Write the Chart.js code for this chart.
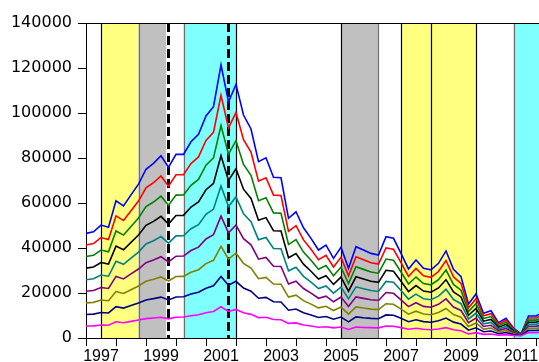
<!DOCTYPE html>
<html>
<head>
<meta charset="utf-8">
<script src="https://cdn.jsdelivr.net/npm/chart.js@4.4.0/dist/chart.umd.min.js"></script>
<style>
html, body { margin: 0; padding: 0; background: #fff; }
#wrap { width: 539px; height: 362px; }
</style>
</head>
<body>
<div id="wrap"><canvas id="fanChart"></canvas></div>
<script>
// quarterly observations, first one is 1997Q1
var startYear = 1997;
var nObs = 62;

var magenta = [5300,5400,5800,5700,7200,6800,7400,8000,8600,8900, 9200,8500,9200,9300,9900,10300,11200,11800,13900,11800, 12700,11200,10500,9000,9200,8200,8100,6500,6700,5800, 5300,4800,5000,4500,4900,3800,4900,4700,4600,4500, 5300,5200,4600,3900,4300,3900,3700,4000,4600,3700, 3200,1800,2400,1600,1800,1200,1500,1100,1000,2400, 2400,2700];
var navy = [10450,10630,11350,11140,13930,13290,14430,15550,16900,17490, 18180,16930,18250,18340,19560,20330,22140,23180,27330,23450, 25200,22190,20800,17680,18060,16100,15990,12340,12880,11200, 10180,9090,9540,8360,9330,7200,9360,9000,8730,8550, 10260,10090,8730,7250,8100,7290,7030,7650,8860,7050, 6210,3460,4550,2780,3090,1900,2410,1510,1100,3330, 3330,3800];
var olive = [15600,15850,16900,16580,20650,19780,21450,23100,25200,26080, 27150,25350,27300,27380,29230,30350,33080,34550,40750,35100, 37700,33180,31100,26350,26930,24000,23880,18180,19050,16600, 15050,13380,14080,12230,13750,10600,13830,13300,12850,12600, 15230,14980,12850,10600,11900,10680,10350,11300,13130,10400, 9230,5130,6700,3950,4380,2600,3330,1930,1200,4250, 4250,4900];
var purple = [20750,21080,22450,22010,27380,26260,28480,30650,33500,34660, 36130,33780,36350,36410,38890,40380,44010,45930,54180,46750, 50200,44160,41400,35030,35790,31900,31760,24010,25230,22000, 19930,17660,18610,16090,18180,14000,18290,17600,16980,16650, 20190,19860,16980,13950,15700,14060,13680,14950,17390,13750, 12240,6790,8850,5130,5660,3300,4240,2340,1300,5180, 5180,6000];
var teal = [25900,26300,28000,27450,34100,32750,35500,38200,41800,43250, 45100,42200,45400,45450,48550,50400,54950,57300,67600,58400, 62700,55150,51700,43700,44650,39800,39650,29850,31400,27400, 24800,21950,23150,19950,22600,17400,22750,21900,21100,20700, 25150,24750,21100,17300,19500,17450,17000,18600,21650,17100, 15250,8450,11000,6300,6950,4000,5150,2750,1400,6100, 6100,7100];
var black = [31050,31530,33550,32890,40830,39240,42530,45750,50100,51840, 54080,50630,54450,54490,58210,60430,65890,68680,81030,70050, 75200,66140,62000,52380,53510,47700,47540,35690,37580,32800, 29680,26240,27690,23810,27030,20800,27210,26200,25230,24750, 30110,29640,25230,20650,23300,20840,20330,22250,25910,20450, 18260,10110,13150,7480,8240,4700,6060,3160,1500,7030, 7030,8200];
var green = [36200,36750,39100,38330,47550,45730,49550,53300,58400,60430, 63050,59050,63500,63530,67880,70450,76830,80050,94450,81700, 87700,77130,72300,61050,62380,55600,55430,41530,43750,38200, 34550,30530,32230,27680,31450,24200,31680,30500,29350,28800, 35080,34530,29350,24000,27100,24230,23650,25900,30180,23800, 21280,11780,15300,8650,9530,5400,6980,3580,1600,7950, 7950,9300];
var red = [41350,41980,44650,43760,54280,52210,56580,60850,66700,69010, 72030,67480,72550,72560,77540,80480,87760,91430,107880,93350, 100200,88110,82600,69730,71240,63500,63310,47360,49930,43600, 39430,34810,36760,31540,35880,27600,36140,34800,33480,32850, 40040,39410,33480,27350,30900,27610,26980,29550,34440,27150, 24290,13440,17450,9830,10810,6100,7890,3990,1700,8880, 8880,10400];
var blue = [46500,47200,50200,49200,61000,58700,63600,68400,75000,77600, 81000,75900,81600,81600,87200,90500,98700,102800,121300,105000, 112700,99100,92900,78400,80100,71400,71200,53200,56100,49000, 44300,39100,41300,35400,40300,31000,40600,39100,37600,36900, 45000,44300,37600,30700,34700,31000,30300,33200,38700,30500, 27300,15100,19600,11000,12100,6800,8800,4400,1800,9800, 9800,11500];

var allSeries = [magenta, navy, olive, purple, teal, black, green, red, blue];
var seriesColors = ['#FF00FF', '#000080', '#808000', '#800080', '#008080', '#000000', '#008000', '#FF0000', '#0000FF'];

var yTicks = [0, 20000, 40000, 60000, 80000, 100000, 120000, 140000];

// shaded periods and marker lines, in years
var bands = [
  { from: 1997.5,  to: 1998.75, color: '#FFFF80' },
  { from: 1998.75, to: 1999.67, color: '#C0C0C0' },
  { from: 2000.25, to: 2002.0,  color: '#80FFFF' },
  { from: 2005.5,  to: 2006.75, color: '#C0C0C0' },
  { from: 2007.5,  to: 2010.0,  color: '#FFFF80' },
  { from: 2011.25, to: 2013.0,  color: '#80FFFF' }
];
var edgeLines = [1998.75, 2000.25, 2006.72, 2011.25];
var solidLines = [1997.5, 2002.0, 2005.5, 2007.5, 2008.5, 2010.0];
var dashedLines = [1999.73, 2001.74];

function toPoints(values) {
  var pts = [];
  for (var i = 0; i < values.length; i++) {
    pts.push({ x: startYear + i / 4, y: values[i] });
  }
  return pts;
}

var datasets = [];
for (var s = 0; s < allSeries.length; s++) {
  datasets.push({
    data: toPoints(allSeries[s]),
    borderColor: seriesColors[s],
    borderWidth: 1.6,
    pointRadius: 0,
    tension: 0,
    fill: false
  });
}

var shading = {
  id: 'shading',
  beforeDatasetsDraw: function(chart) {
    var ctx = chart.ctx, area = chart.chartArea, x = chart.scales.x;
    ctx.save();
    ctx.beginPath();
    ctx.rect(area.left, area.top, area.right - area.left, area.bottom - area.top);
    ctx.clip();
    bands.forEach(function(b) {
      var x0 = x.getPixelForValue(b.from), x1 = x.getPixelForValue(b.to);
      ctx.fillStyle = b.color;
      ctx.fillRect(x0, area.top, x1 - x0, area.bottom - area.top);
    });
    function vline(v, color, width, dash) {
      var px = Math.round(x.getPixelForValue(v)) + 0.5;
      ctx.strokeStyle = color;
      ctx.lineWidth = width;
      ctx.setLineDash(dash);
      ctx.beginPath();
      ctx.moveTo(px, area.top);
      ctx.lineTo(px, area.bottom);
      ctx.stroke();
    }
    edgeLines.forEach(function(v) { vline(v, '#707070', 1.2, []); });
    solidLines.forEach(function(v) { vline(v, '#000000', 1.2, []); });
    dashedLines.forEach(function(v) { vline(v, '#000000', 3, [9, 4]); });
    ctx.setLineDash([]);
    // top edge of the frame
    ctx.strokeStyle = '#000';
    ctx.lineWidth = 1;
    ctx.beginPath();
    ctx.moveTo(area.left, area.top + 0.5);
    ctx.lineTo(area.right, area.top + 0.5);
    ctx.stroke();
    ctx.restore();
  }
};

var ctx = document.getElementById('fanChart');
var fanChart = new Chart(ctx, {
  type: 'line',
  data: { datasets: datasets },
  plugins: [shading],
  options: {
    responsive: true,
    maintainAspectRatio: false,
    devicePixelRatio: 1,
    animation: false,
    layout: { padding: { top: 23, right: 0, bottom: 0, left: 0 } },
    plugins: { legend: { display: false }, tooltip: { enabled: false } },
    scales: {
      x: {
        type: 'linear',
        min: startYear,
        max: startYear + (539 - 86) / 30,
        afterFit: function(scale) { scale.height = 24; },
        afterBuildTicks: function(scale) {
          var t = [];
          for (var yr = startYear; yr <= 2012; yr++) {
            t.push({ value: yr });
            if (yr < 2012) t.push({ value: yr + 0.5 });
          }
          scale.ticks = t;
        },
        grid: {
          drawOnChartArea: false,
          drawTicks: true,
          tickLength: 8,
          color: function(c) {
            return (c.tick && Number.isInteger(c.tick.value)) ? '#000' : 'rgba(0,0,0,0)';
          }
        },
        border: { display: true, color: '#000', width: 1 },
        ticks: {
          autoSkip: false,
          maxRotation: 0,
          padding: 1,
          color: '#000',
          font: { family: 'Liberation Sans', size: 16 },
          callback: function(v) {
            var yr = Math.floor(v);
            return (v - yr === 0.5 && yr % 2 === 1) ? String(yr) : '';
          }
        }
      },
      y: {
        min: 0,
        max: 140000,
        afterFit: function(scale) { scale.width = 86; },
        afterBuildTicks: function(scale) {
          scale.ticks = yTicks.map(function(v) { return { value: v }; });
        },
        grid: { drawOnChartArea: false, drawTicks: true, tickLength: 8, color: '#000' },
        border: { display: true, color: '#000', width: 1 },
        ticks: {
          padding: 6,
          color: '#000',
          font: { family: 'DejaVu Sans', size: 16 },
          callback: function(v) { return String(v); }
        }
      }
    }
  }
});
</script>
</body>
</html>
